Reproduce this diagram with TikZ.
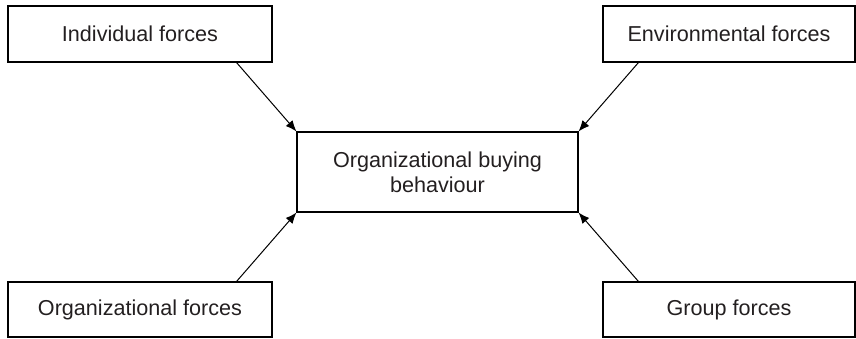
\documentclass[tikz,border=0pt]{standalone}
\usepackage{fontspec}
\setmainfont{Liberation Sans}
\usetikzlibrary{arrows.meta}
\definecolor{inkgrey}{HTML}{231F20}

\begin{document}
\begin{tikzpicture}[x=0.5pt,y=-0.5pt,>={Latex[length=5.5pt,width=4.5pt]},
    forcebox/.style={draw,line width=0.55pt,rectangle,text=inkgrey,
        font=\fontsize{10.8}{12.5}\selectfont,align=center,inner sep=0pt}]
    \useasboundingbox (0,0) rectangle (856,338);

    % the four forces
    \node[forcebox,minimum width=132pt,minimum height=28pt] (indiv) at (140,34) {Individual forces};
    \node[forcebox,minimum width=126pt,minimum height=28pt] (envir) at (729,34) {Environmental forces};
    \node[forcebox,minimum width=132pt,minimum height=27.5pt] (organ) at (140,309.5) {Organizational forces};
    \node[forcebox,minimum width=126pt,minimum height=27.5pt] (group) at (729,309.5) {Group forces};

    % buying behaviour in the middle
    \node[forcebox,minimum width=140.5pt,minimum height=40pt] (buying) at (437.5,172)
        {Organizational buying\\behaviour};

    % arrows into the middle box
    \draw[->,line width=0.5pt] ([xshift=-18pt]indiv.south east) -- (buying.north west);
    \draw[->,line width=0.5pt] ([xshift=18pt]envir.south west) -- (buying.north east);
    \draw[->,line width=0.5pt] ([xshift=-18pt]organ.north east) -- (buying.south west);
    \draw[->,line width=0.5pt] ([xshift=18pt]group.north west) -- (buying.south east);
\end{tikzpicture}
\end{document}
